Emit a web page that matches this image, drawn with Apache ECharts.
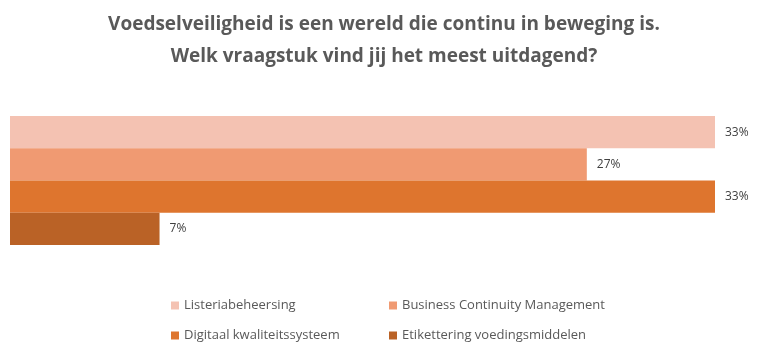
<!DOCTYPE html>
<html><head><meta charset="utf-8">
<script src="https://cdn.jsdelivr.net/npm/echarts@6/dist/echarts.min.js"></script>
<style>html,body{margin:0;padding:0;background:#fff}#c{width:768px;height:347px}</style>
</head><body><div id="c"></div>
<script>
const categories = ['Listeriabeheersing','Business Continuity Management','Digitaal kwaliteitssysteem','Etikettering voedingsmiddelen'];
const values = [33, 27, 33, 7];
const colors = ['#F4C2B2','#F09A72','#DE752E','#BA6226'];
const titleLines = ['Voedselveiligheid is een wereld die continu in beweging is.','Welk vraagstuk vind jij het meest uitdagend?'];

const chart = echarts.init(document.getElementById('c'), null, {renderer:'canvas'});
const series = categories.map((name, i) => ({
  name, type:'bar', stack:'all', barCategoryGap:0, barWidth:'100%',
  itemStyle:{color:colors[i]},
  data: categories.map((c, j) => j === i ? values[i] : null),
  label:{show:true, position:'right', distance:10, formatter:'{c}%', color:'#404040', fontSize:12, fontFamily:'Open Sans'}
}));
const legendPos = [[166,294],[384,294],[166,324],[384,324]];
const legends = categories.map((name, i) => ({
  orient:'horizontal', icon:'rect', itemWidth:8, itemHeight:8,
  left:legendPos[i][0], top:legendPos[i][1], data:[name],
  textStyle:{color:'#595959', fontSize:13, fontFamily:'Open Sans'}
}));
chart.setOption({
  animation:false,
  title:{text:titleLines.join('\n'), left:'center', top:4,
    textStyle:{color:'#595959', fontSize:19, fontWeight:'bold', fontFamily:'Open Sans', lineHeight:32}},
  grid:{left:10, right:53, top:116, bottom:102, containLabel:false},
  xAxis:{type:'value', min:0, max:33, show:false},
  yAxis:{type:'category', data:categories, inverse:true, show:false},
  legend:legends,
  series
});
</script></body></html>
